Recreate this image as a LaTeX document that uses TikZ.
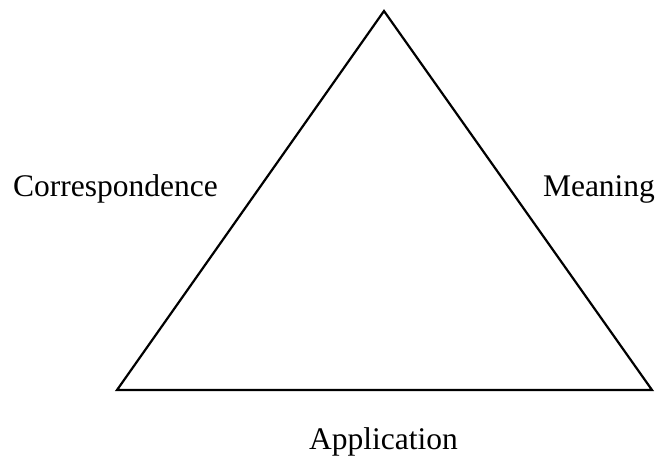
\documentclass[tikz,border=0pt]{standalone}
\usepackage{fontspec}
\setmainfont{Liberation Serif}
\usepackage{tikz}

\tikzset{
  side/.style={line width=2.2pt, line join=miter},
  lbl/.style={inner sep=0pt, anchor=base, font=\fontsize{31.5}{36}\selectfont}
}

\begin{document}
\begin{tikzpicture}[x=1pt,y=1pt]
\useasboundingbox (0,0) rectangle (657,459);

\coordinate (top) at (384,448);
\coordinate (left) at (117,69);
\coordinate (right) at (652,69);

\draw[side] (top) -- (left) -- (right) -- cycle;

\node[lbl] (corr) at (115.5,262) {Correspondence};
\node[lbl] (mean) at (599,262) {Meaning};
\node[lbl] (appl) at (383.5,10) {Application};
\end{tikzpicture}
\end{document}
